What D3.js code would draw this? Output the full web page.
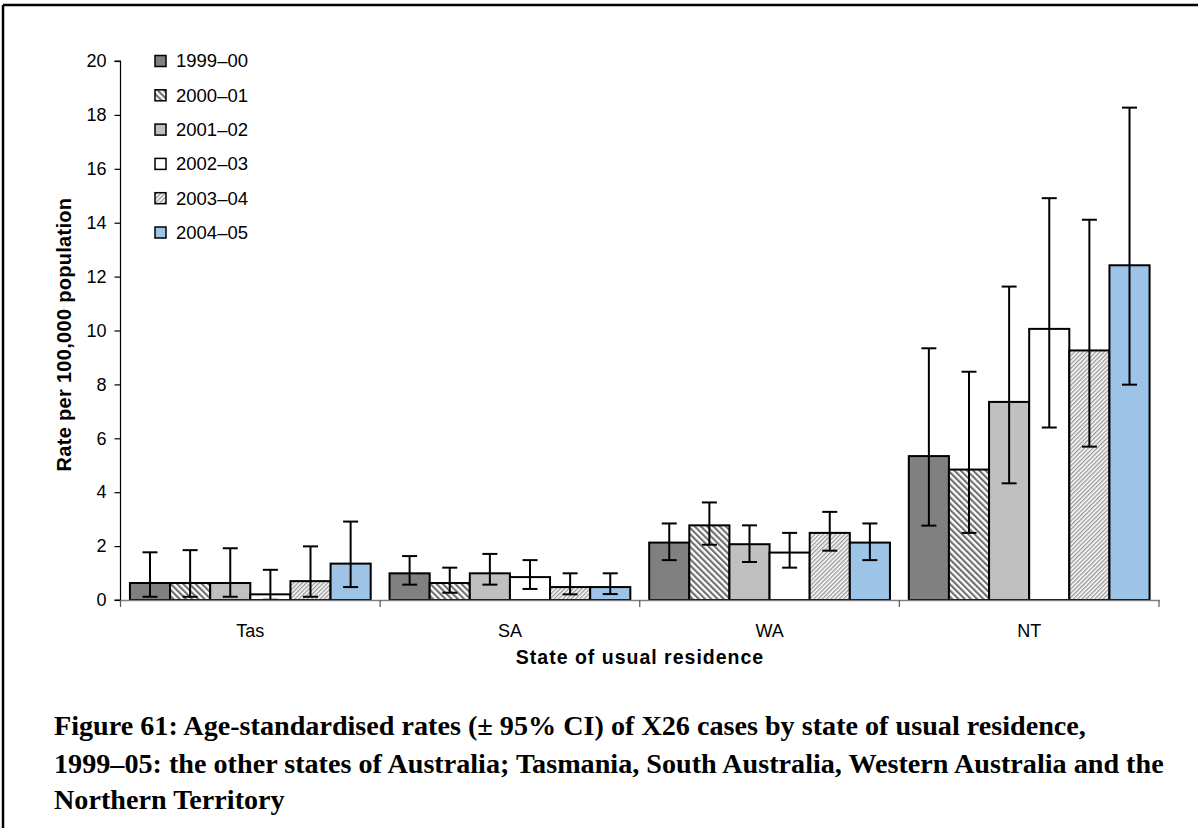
<!DOCTYPE html>
<html>
<head>
<meta charset="utf-8">
<script src="https://cdn.jsdelivr.net/npm/d3@7"></script>
<style>
  html, body { margin: 0; padding: 0; background: #fff; }
  svg { display: block; }
</style>
</head>
<body>
<svg id="chart" width="1198" height="828"></svg>
<script>
// Categories and series
const states = ["Tas", "SA", "WA", "NT"];
const years = ["1999–00", "2000–01", "2001–02", "2002–03", "2003–04", "2004–05"];

// Age-standardised rate per 100,000, one array per year, ordered as states
const rate1999 = [0.63, 0.99, 2.13, 5.34];
const rate2000 = [0.63, 0.63, 2.77, 4.84];
const rate2001 = [0.63, 0.99, 2.07, 7.35];
const rate2002 = [0.21, 0.85, 1.76, 10.06];
const rate2003 = [0.70, 0.48, 2.49, 9.26];
const rate2004 = [1.35, 0.48, 2.13, 12.42];

// 95% confidence limits
const low1999 = [0.12, 0.57, 1.48, 2.76];
const low2000 = [0.12, 0.27, 2.05, 2.49];
const low2001 = [0.12, 0.57, 1.41, 4.33];
const low2002 = [0.01, 0.41, 1.20, 6.40];
const low2003 = [0.12, 0.21, 1.83, 5.69];
const low2004 = [0.48, 0.22, 1.48, 7.99];

const high1999 = [1.77, 1.63, 2.84, 9.34];
const high2000 = [1.85, 1.20, 3.62, 8.47];
const high2001 = [1.92, 1.71, 2.77, 11.63];
const high2002 = [1.12, 1.48, 2.49, 14.91];
const high2003 = [1.99, 0.99, 3.27, 14.11];
const high2004 = [2.91, 0.99, 2.84, 18.27];

const yTicks = [0, 2, 4, 6, 8, 10, 12, 14, 16, 18, 20];

const captionLines = [
  "Figure 61: Age-standardised rates (± 95% CI) of X26 cases by state of usual residence,",
  "1999–05: the other states of Australia; Tasmania, South Australia, Western Australia and the",
  "Northern Territory"
];

const rates = [rate1999, rate2000, rate2001, rate2002, rate2003, rate2004];
const lows = [low1999, low2000, low2001, low2002, low2003, low2004];
const highs = [high1999, high2000, high2001, high2002, high2003, high2004];

const svg = d3.select("#chart");
const defs = svg.append("defs");

// Hatch fills for 2000–01 (back-diagonal) and 2003–04 (forward diagonal)
function hatch(id, angle, period, stripe, color) {
  const p = defs.append("pattern")
    .attr("id", id)
    .attr("patternUnits", "userSpaceOnUse")
    .attr("width", period).attr("height", period)
    .attr("patternTransform", `rotate(${angle})`);
  p.append("rect").attr("width", period).attr("height", period).attr("fill", "#fff");
  p.append("rect").attr("width", stripe).attr("height", period).attr("fill", color);
}
hatch("hatchA", -45, 4.4, 2.1, "#6e6e6e");
hatch("hatchB", 45, 3.0, 1.4, "#9a9a9a");

const fills = ["#808080", "url(#hatchA)", "#c0c0c0", "#ffffff", "url(#hatchB)", "#9dc3e6"];

// Page frame (top and left edges)
svg.append("line").attr("x1", 3).attr("x2", 1198).attr("y1", 5).attr("y2", 5)
  .attr("stroke", "#000").attr("stroke-width", 2.5);
svg.append("line").attr("x1", 3).attr("x2", 3).attr("y1", 5).attr("y2", 828)
  .attr("stroke", "#000").attr("stroke-width", 2.5);

const plot = { left: 120.5, right: 1159, top: 61, bottom: 600 };

const x = d3.scaleBand().domain(states).range([plot.left, plot.right]).padding(0);
const xs = d3.scaleBand().domain(years).range([0, x.bandwidth()])
  .paddingInner(0).paddingOuter(0.235);
const y = d3.scaleLinear().domain([0, 20]).range([plot.bottom, plot.top]);

// Y axis
const yAxis = d3.axisLeft(y).tickValues(yTicks).tickSize(6).tickPadding(8);
const gy = svg.append("g").attr("transform", `translate(${plot.left},0)`).call(yAxis);
gy.select(".domain").attr("stroke", "#000").attr("stroke-width", 1.2).attr("d", `M-6,${plot.top}H0V${plot.bottom}H-6`);
gy.selectAll(".tick line").attr("stroke", "#000").attr("stroke-width", 1.2);
gy.selectAll(".tick text").attr("font-family", "Liberation Sans, Arial, sans-serif")
  .attr("font-size", 18).attr("fill", "#000");

// Bars
const groups = svg.append("g").selectAll("g")
  .data(states)
  .join("g")
  .attr("transform", d => `translate(${x(d)},0)`);

groups.each(function (state, si) {
  const g = d3.select(this);
  years.forEach((yr, k) => {
    const v = rates[k][si];
    g.append("rect")
      .attr("x", xs(yr))
      .attr("y", y(v))
      .attr("width", xs.bandwidth())
      .attr("height", y(0) - y(v))
      .attr("fill", fills[k])
      .attr("stroke", "#000")
      .attr("stroke-width", 2);
  });
});

// X axis
const xAxis = d3.axisBottom(x).tickSize(0).tickPadding(24);
const gx = svg.append("g").attr("transform", `translate(0,${plot.bottom})`).call(xAxis);
gx.select(".domain").attr("stroke", "#808080").attr("stroke-width", 1.5);
gx.selectAll(".tick text").attr("font-family", "Liberation Sans, Arial, sans-serif")
  .attr("font-size", 18).attr("fill", "#000");
// Boundary ticks between categories
const bounds = states.map(s => x(s)).concat([x(states[states.length - 1]) + x.bandwidth()]);
gx.selectAll("line.bound").data(bounds).join("line").attr("class", "bound")
  .attr("x1", d => d).attr("x2", d => d).attr("y1", 0).attr("y2", 7)
  .attr("stroke", "#555").attr("stroke-width", 1.2);

// Error bars
groups.each(function (state, si) {
  const g = d3.select(this);
  years.forEach((yr, k) => {
    const cx = xs(yr) + xs.bandwidth() / 2;
    const lo = y(lows[k][si]), hi = y(highs[k][si]);
    const cap = 7.5;
    const e = g.append("g").attr("stroke", "#000").attr("stroke-width", 2).attr("fill", "none");
    e.append("line").attr("x1", cx).attr("x2", cx).attr("y1", hi).attr("y2", lo);
    e.append("line").attr("x1", cx - cap).attr("x2", cx + cap).attr("y1", hi).attr("y2", hi);
    e.append("line").attr("x1", cx - cap).attr("x2", cx + cap).attr("y1", lo).attr("y2", lo);
  });
});

// Axis titles
svg.append("text")
  .attr("transform", `translate(71,${(plot.top + plot.bottom) / 2 + 4}) rotate(-90)`)
  .attr("text-anchor", "middle")
  .attr("font-family", "Liberation Sans, Arial, sans-serif")
  .attr("font-weight", "bold").attr("font-size", 20)
  .attr("letter-spacing", 0.3)
  .text("Rate per 100,000 population");

svg.append("text")
  .attr("x", 640).attr("y", 664)
  .attr("text-anchor", "middle")
  .attr("font-family", "Liberation Sans, Arial, sans-serif")
  .attr("font-weight", "bold").attr("font-size", 19.5)
  .attr("letter-spacing", 1)
  .text("State of usual residence");

// Legend
const legend = svg.append("g").attr("transform", "translate(155,61)");
years.forEach((yr, k) => {
  const row = legend.append("g").attr("transform", `translate(0,${k * 34.3})`);
  row.append("rect").attr("x", 0).attr("y", -5.5).attr("width", 11).attr("height", 11)
    .attr("fill", fills[k]).attr("stroke", "#000").attr("stroke-width", 1.5);
  row.append("text").attr("x", 21).attr("y", 0).attr("dy", "0.35em")
    .attr("font-family", "Liberation Sans, Arial, sans-serif")
    .attr("font-size", 18.5).attr("fill", "#000")
    .text(yr);
});

// Caption
const cap = svg.append("g").attr("font-family", "Liberation Serif, Times New Roman, serif")
  .attr("font-weight", "bold").attr("fill", "#000");
const baselines = [735, 773, 809];
const capTexts = captionLines.map((t, i) =>
  cap.append("text").attr("x", 54).attr("y", baselines[i]).attr("font-size", 24).text(t));
// scale caption so the longest line spans the text block
const w = capTexts[1].node().getComputedTextLength();
const fs = 24 * 1110 / w;
capTexts.forEach(t => t.attr("font-size", fs));
</script>
</body>
</html>
